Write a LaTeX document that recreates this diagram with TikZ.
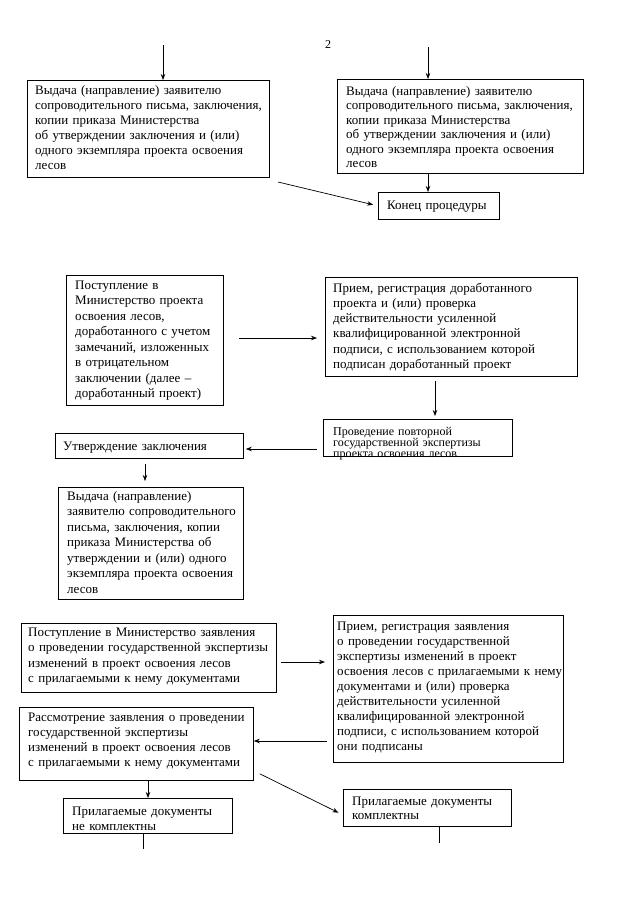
\documentclass[tikz,border=0pt]{standalone}
\usepackage{fontspec}
\setmainfont{Liberation Serif}
\usetikzlibrary{arrows.meta,calc}
\begin{document}
\begin{tikzpicture}[x=1pt,y=-1pt,
  frame/.style={draw, line width=0.8pt, anchor=north west, inner sep=0pt},
  txt/.style={anchor=base west, align=left, text width=300pt, inner sep=0pt,
    font=\fontsize{13}{#1}\selectfont},
  arr/.style={line width=0.7pt, -{Stealth[length=6pt,width=4.5pt]}},
  ln/.style={line width=0.7pt}]
\useasboundingbox[fill=white] (0,0) rectangle (640,905);

\node[font=\fontsize{12}{14}\selectfont] (pg) at (328,45) {2};

% ---------- top part
\node[frame, minimum width=242pt, minimum height=97pt] (A) at (27,80) {};
\node[txt=15] (At) at (35,94) {Выдача (направление) заявителю\\сопроводительного письма, заключения,\\копии приказа Министерства\\об утверждении заключения и (или)\\одного экземпляра проекта освоения\\лесов};
\node[frame, minimum width=246pt, minimum height=94pt] (B) at (337,79) {};
\node[txt=14.5] (Bt) at (346,95) {Выдача (направление) заявителю\\сопроводительного письма, заключения,\\копии приказа Министерства\\об утверждении заключения и (или)\\одного экземпляра проекта освоения\\лесов};
\node[frame, minimum width=121pt, minimum height=27pt] (End) at (378,192) {};
\node[txt=15] (Endt) at (387,209) {Конец процедуры};

\coordinate (sA) at (163,45);
\coordinate (sB) at (428,47);
\coordinate (dA) at (278,182);
\draw[arr] (sA) -- (sA |- A.north);
\draw[arr] (sB) -- (sB |- B.north);
\draw[arr] (sB |- B.south) -- (sB |- End.north);
\draw[arr, shorten >=5pt] (dA) -- (End.west);

% ---------- middle part
\node[frame, minimum width=157pt, minimum height=130pt] (C) at (66,275) {};
\node[txt=15.5] (Ct) at (75,289) {Поступление в\\Министерство проекта\\освоения лесов,\\доработанного с учетом\\замечаний, изложенных\\в отрицательном\\заключении (далее –\\доработанный проект)};
\node[frame, minimum width=252pt, minimum height=99pt] (D) at (325,277) {};
\node[txt=15.3] (Dt) at (333,292) {Прием, регистрация доработанного\\проекта и (или) проверка\\действительности усиленной\\квалифицированной электронной\\подписи, с использованием которой\\подписан доработанный проект};
\node[frame, minimum width=189pt, minimum height=37pt] (E) at (323,419) {};
\node[txt=11, font=\fontsize{12}{11}\selectfont] (Et) at (333,435) {Проведение повторной\\государственной экспертизы\\проекта освоения лесов};
\node[frame, minimum width=188pt, minimum height=25pt] (F) at (55,433) {};
\node[txt=15] (Ft) at (63,450) {Утверждение заключения};
\node[frame, minimum width=185pt, minimum height=112pt] (G) at (58,487) {};
\node[txt=15.5] (Gt) at (67,500) {Выдача (направление)\\заявителю сопроводительного\\письма, заключения, копии\\приказа Министерства об\\утверждении и (или) одного\\экземпляра проекта освоения\\лесов};

\coordinate (cd) at (0,338);
\coordinate (de) at (435,0);
\coordinate (ef) at (0,449);
\coordinate (fg) at (145,0);
\draw[arr, shorten <=15pt, shorten >=8pt] (C.east |- cd) -- (D.west |- cd);
\draw[arr, shorten <=4pt, shorten >=3pt] (D.south -| de) -- (E.north -| de);
\draw[arr, shorten <=6pt, shorten >=2pt] (E.west |- ef) -- (F.east |- ef);
\draw[arr, shorten <=5pt, shorten >=6pt] (F.south -| fg) -- (G.north -| fg);

% ---------- bottom part
\node[frame, minimum width=255pt, minimum height=69pt] (H) at (21,623) {};
\node[txt=15.5] (Ht) at (28,636) {Поступление в Министерство заявления\\о проведении государственной экспертизы\\изменений в проект освоения лесов\\с прилагаемыми к нему документами};
\node[frame, minimum width=230pt, minimum height=147pt] (I) at (333,615) {};
\node[txt=15.1] (It) at (337,630) {Прием, регистрация заявления\\о проведении государственной\\экспертизы изменений в проект\\освоения лесов с прилагаемыми к нему\\документами и (или) проверка\\действительности усиленной\\квалифицированной электронной\\подписи, с использованием которой\\они подписаны};
\node[frame, minimum width=234pt, minimum height=73pt] (J) at (19,707) {};
\node[txt=15.3] (Jt) at (28,721) {Рассмотрение заявления о проведении\\государственной экспертизы\\изменений в проект освоения лесов\\с прилагаемыми к нему документами};
\node[frame, minimum width=169pt, minimum height=35pt] (K) at (63,798) {};
\node[txt=15] (Kt) at (72,815) {Прилагаемые документы\\не комплектны};
\node[frame, minimum width=168pt, minimum height=37pt] (L) at (343,789) {};
\node[txt=14] (Lt) at (352,805) {Прилагаемые документы\\комплектны};

\coordinate (hi) at (0,662);
\coordinate (ij) at (0,741);
\coordinate (jk) at (148,0);
\coordinate (kx) at (143,0);
\coordinate (lx) at (439,0);
\draw[arr, shorten <=4pt, shorten >=8pt] (H.east |- hi) -- (I.west |- hi);
\draw[arr, shorten <=6pt] (I.west |- ij) -- (J.east |- ij);
\draw[arr] (J.south -| jk) -- (K.north -| jk);
\draw[arr, shorten >=5pt] ($(J.south east)+(6,-7)$) -- ($(L.west)+(0,7)$);
\draw[ln] (K.south -| kx) -- ++(0,15);
\draw[ln] (L.south -| lx) -- ++(0,16);
\end{tikzpicture}
\end{document}
